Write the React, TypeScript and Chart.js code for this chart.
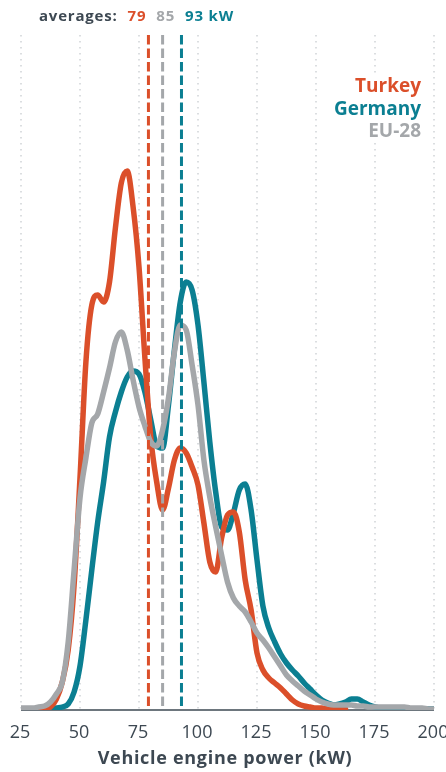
import React, { useEffect, useRef } from "react";
import { Chart, registerables } from "chart.js";

Chart.register(...registerables);

// Vehicle engine power (kW) sample points
const powerKW = [
  25, 27.5, 30, 32.5, 35, 37.5, 40, 42.5, 45, 47.5, 50, 52.5, 55, 57.5, 60, 62.5,
  65, 67.5, 70, 72.5, 75, 77.5, 80, 82.5, 85, 87.5, 90, 92.5, 95, 97.5, 100, 102.5,
  105, 107.5, 110, 112.5, 115, 117.5, 120, 122.5, 125, 127.5, 130, 132.5, 135, 137.5,
  140, 142.5, 145, 147.5, 150, 152.5, 155, 157.5, 160, 162.5, 165, 167.5, 170, 172.5,
  175, 177.5, 180, 182.5, 185, 187.5, 190, 192.5, 195, 197.5, 200,
];

// Relative frequency (arbitrary density units)
const turkeyShare = [
  null, null, null, 1, 1, 3, 11, 28, 60, 125, 232, 348, 405, 415, 408, 428,
  482, 527, 539, 503, 443, 352, 272, 228, 200, 222, 250, 262, 257, 243, 225, 187,
  148, 138, 172, 195, 198, 178, 130, 100, 57, 40, 32, 27, 22, 16,
  10, 6, 4, 3, 2, 2, 1, 1, 1, 1, null, null, null, null,
  null, null, null, null, null, null, null, null, null, null, null,
];

const germanyShare = [
  1, 1, 1, 1, 1, 1, 2, 3, 6, 18, 44, 90, 140, 188, 228, 273,
  298, 318, 333, 339, 336, 318, 290, 264, 262, 305, 360, 408, 428, 420, 385, 328,
  268, 218, 183, 180, 197, 220, 226, 200, 150, 104, 82, 68, 56, 47,
  40, 34, 27, 21, 15, 10, 7, 5, 6, 8, 11, 11, 8, 5,
  3, 2, 2, 1, 1, 1, 1, 1, 1, 1, 1,
];

const eu28Share = [
  2, 2, 2, 3, 4, 8, 16, 28, 68, 140, 212, 252, 287, 296, 318, 342,
  368, 378, 360, 330, 303, 284, 268, 264, 280, 312, 358, 385, 380, 345, 305, 250,
  213, 183, 155, 128, 112, 104, 98, 88, 77, 70, 62, 53, 44, 35,
  29, 24, 19, 15, 11, 8, 6, 5, 5, 5, 5, 4, 4, 3,
  3, 3, 3, 3, 3, 3, 2, 2, 2, 1, 1,
];

const seriesNames = ["Turkey", "Germany", "EU-28"];
const averageKW = [79, 85, 93];
const averagesLabel = "averages:";
const averagesUnit = "kW";
const xTickValues = [25, 50, 75, 100, 125, 150, 175, 200];
const xTitle = "Vehicle engine power (kW)";

const RED = "#db4f2a";
const TEAL = "#0b7f92";
const GRAY = "#a4a7aa";
const TEXT = "#3d4852";
const GRID = "#cfd3d6";
const seriesColors = [RED, TEAL, GRAY];
const FONT = "'Open Sans', sans-serif";

const overlayPlugin = {
  id: "overlay",
  beforeDatasetsDraw(chart: any) {
    const { ctx, chartArea, scales } = chart;
    const xs = scales.x;
    ctx.save();
    ctx.strokeStyle = GRID;
    ctx.lineWidth = 1.5;
    ctx.setLineDash([1.5, 4.5]);
    for (const t of xTickValues) {
      const px = xs.getPixelForValue(t);
      ctx.beginPath();
      ctx.moveTo(px, chartArea.top);
      ctx.lineTo(px, chartArea.bottom);
      ctx.stroke();
    }
    ctx.setLineDash([]);
    ctx.strokeStyle = TEXT;
    ctx.lineWidth = 1.5;
    ctx.beginPath();
    ctx.moveTo(chartArea.left, chartArea.bottom);
    ctx.lineTo(chartArea.right, chartArea.bottom);
    ctx.stroke();
    ctx.restore();
  },
  afterDatasetsDraw(chart: any) {
    const { ctx, chartArea, scales } = chart;
    const xs = scales.x;
    ctx.save();
    // average dashed lines
    ctx.lineWidth = 3;
    ctx.setLineDash([9.5, 4]);
    const avgColors = [RED, GRAY, TEAL];
    averageKW.forEach((v, i) => {
      const px = xs.getPixelForValue(v);
      ctx.strokeStyle = avgColors[i];
      ctx.beginPath();
      ctx.moveTo(px, chartArea.top);
      ctx.lineTo(px, chartArea.bottom);
      ctx.stroke();
    });
    ctx.setLineDash([]);

    // legend (right aligned)
    ctx.font = `bold 19px ${FONT}`;
    ctx.textAlign = "right";
    ctx.textBaseline = "alphabetic";
    const legendRight = chartArea.right - 13;
    const legendBase = [92, 115, 137];
    seriesNames.forEach((name, i) => {
      const w = ctx.measureText(name).width;
      ctx.fillStyle = "#ffffff";
      ctx.fillRect(legendRight - w - 3, legendBase[i] - 17, w + 6, 23);
    });
    seriesNames.forEach((name, i) => {
      ctx.fillStyle = seriesColors[i];
      ctx.fillText(name, legendRight, legendBase[i]);
    });

    // x tick labels
    ctx.font = `18px ${FONT}`;
    ctx.fillStyle = TEXT;
    ctx.textAlign = "center";
    for (const t of xTickValues) {
      ctx.fillText(String(t), xs.getPixelForValue(t) - 1, chartArea.bottom + 28);
    }

    // axis title
    ctx.font = `bold 18px ${FONT}`;
    (ctx as any).letterSpacing = "0.7px";
    ctx.fillText(xTitle, 225, chartArea.bottom + 54);

    // averages header
    ctx.font = `bold 15px ${FONT}`;
    (ctx as any).letterSpacing = "0.8px";
    ctx.textAlign = "left";
    let x = 39;
    const y = 21;
    ctx.fillStyle = TEXT;
    ctx.fillText(averagesLabel, x, y);
    x += ctx.measureText(averagesLabel).width + 10;
    averageKW.forEach((v, i) => {
      const s = i === averageKW.length - 1 ? `${v} ${averagesUnit}` : String(v);
      ctx.fillStyle = avgColors[i];
      ctx.fillText(s, x, y);
      x += ctx.measureText(s).width + 10;
    });
    (ctx as any).letterSpacing = "0px";
    ctx.restore();
  },
};

export default function App() {
  const canvasRef = useRef<HTMLCanvasElement | null>(null);

  useEffect(() => {
    document.body.style.margin = "0";
    const canvas = canvasRef.current;
    if (!canvas) return;
    const mk = (arr: (number | null)[]) =>
      arr.map((v, i) => ({ x: powerKW[i], y: v }));
    const chart = new Chart(canvas, {
      type: "line",
      data: {
        datasets: [
          {
            label: seriesNames[0],
            data: mk(turkeyShare),
            borderColor: RED,
            order: 2,
          },
          {
            label: seriesNames[1],
            data: mk(germanyShare),
            borderColor: TEAL,
            order: 3,
          },
          {
            label: seriesNames[2],
            data: mk(eu28Share),
            borderColor: GRAY,
            order: 1,
          },
        ] as any,
      },
      options: {
        animation: false,
        responsive: false,
        devicePixelRatio: 1,
        layout: { padding: { left: 21, right: 12, top: 35, bottom: 62 } },
        elements: {
          line: {
            borderWidth: 5.5,
            tension: 0.4,
            cubicInterpolationMode: "monotone",
            borderCapStyle: "round",
            borderJoinStyle: "round",
            fill: false,
          },
          point: { radius: 0, hoverRadius: 0 },
        },
        plugins: {
          legend: { display: false },
          tooltip: { enabled: false },
        },
        scales: {
          x: {
            type: "linear",
            min: 25,
            max: 200,
            display: true,
            grid: { display: false, drawTicks: false },
            border: { display: false },
            ticks: { display: false },
          },
          y: {
            min: 0,
            max: 675,
            display: false,
          },
        },
      },
      plugins: [overlayPlugin],
    });
    return () => chart.destroy();
  }, []);

  return (
    <div style={{ width: 446, height: 772 }}>
      <canvas ref={canvasRef} width={446} height={772} style={{ display: "block" }} />
    </div>
  );
}
